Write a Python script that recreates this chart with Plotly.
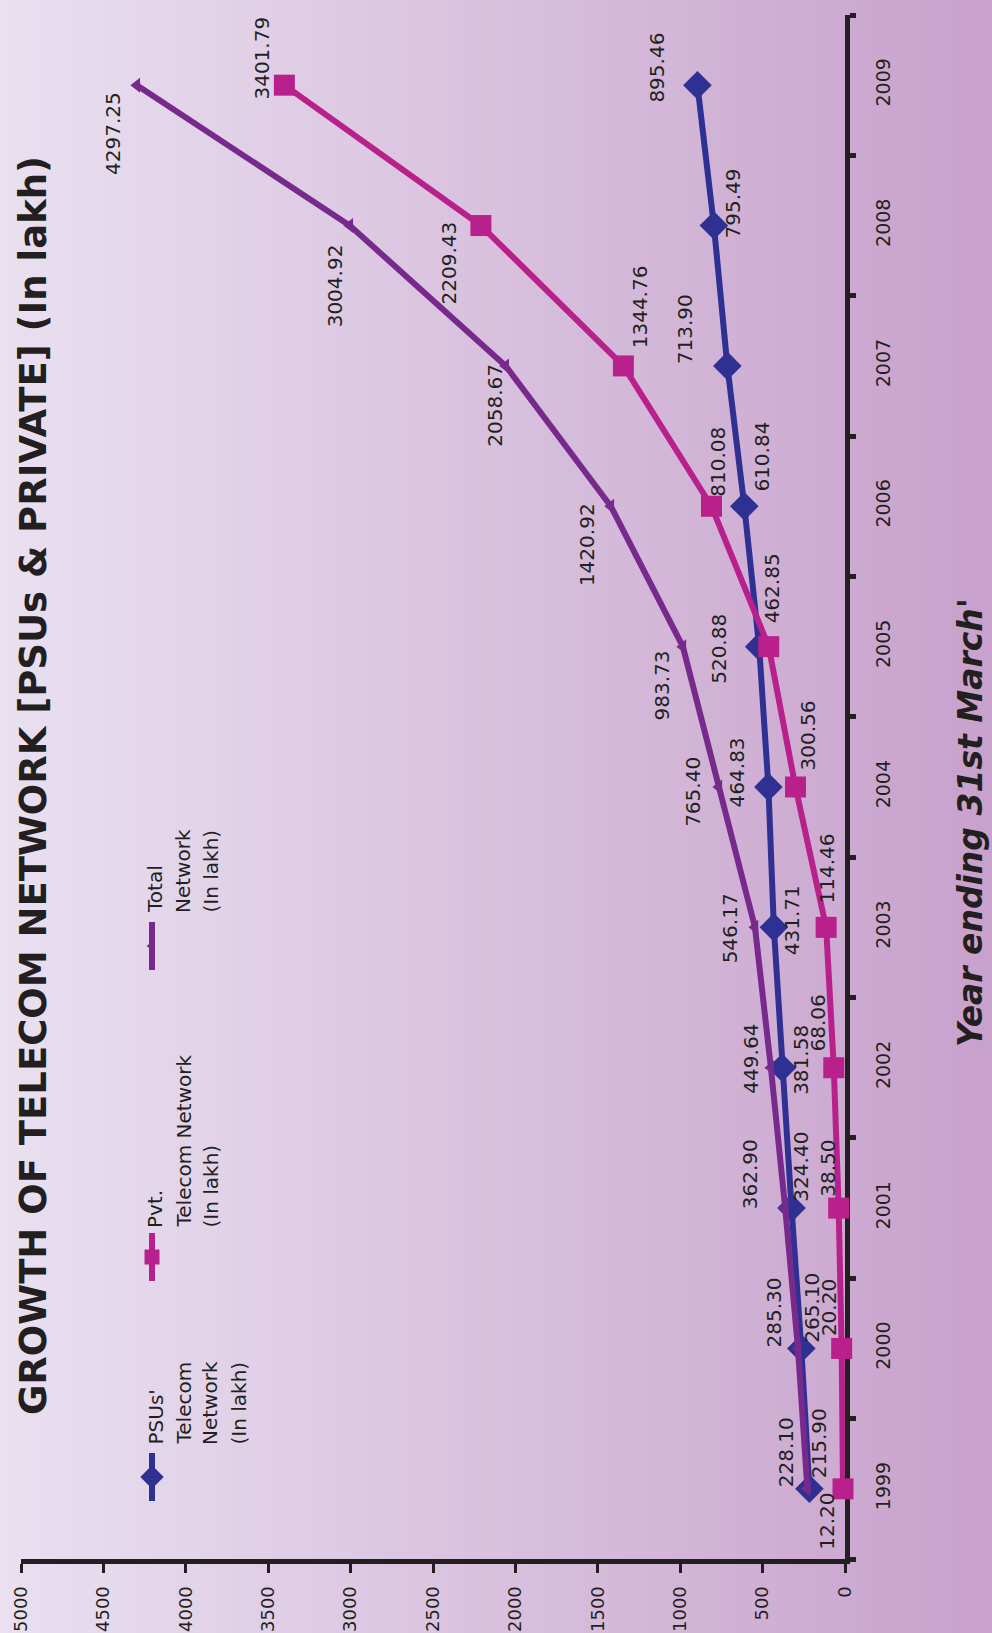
import plotly.graph_objects as go

# ---- data -------------------------------------------------------------
years = [1999, 2000, 2001, 2002, 2003, 2004, 2005, 2006, 2007, 2008, 2009]
psu_network = [215.90, 265.10, 324.40, 381.58, 431.71, 464.83, 520.88, 610.84, 713.90, 795.49, 895.46]
pvt_network = [12.20, 20.20, 38.50, 68.06, 114.46, 300.56, 462.85, 810.08, 1344.76, 2209.43, 3401.79]
total_network = [228.10, 285.30, 362.90, 449.64, 546.17, 765.40, 983.73, 1420.92, 2058.67, 3004.92, 4297.25]
value_ticks = [0, 500, 1000, 1500, 2000, 2500, 3000, 3500, 4000, 4500, 5000]

# ---- label placement (pixel offsets of each value label from its point) ----
psu_label_offsets = [(9, -46), (11, -41), (10, -41), (19, -8), (19, -7), (-31, -15),
                     (-41, 2), (18, -50), (-42, -37), (19, -22), (-40, -18)]
pvt_label_offsets = [(-16, 32), (-12, -41), (-11, -40), (-16, -45), (1, -59), (13, -52),
                     (3, -58), (7, -44), (17, -59), (-32, 37), (-22, -27)]
total_label_offsets = [(-22, -37), (-24, -36), (-35, -34), (-20, -9), (-25, 1), (-26, 5),
                       (-21, 39), (-24, 38), (-11, 39), (-15, 60), (-24, 48)]

# ---- layout geometry ----------------------------------------------------
W, H = 992, 1633
L, R, T, B = 21, 845, 15, 1559

PSU_C = "#2e3192"
PVT_C = "#b8218b"
TOT_C = "#782a8c"
INK = "#231f20"
FONT = "DejaVu Sans"


def px_x(px):
    return (px - L) / (R - L)


def px_y(py):
    return (B - py) / (B - T)


fig = go.Figure()

# series lines (PSU first, then Pvt, Total on top)
fig.add_trace(go.Scatter(
    x=psu_network, y=years, mode="lines+markers", name="PSUs'",
    line=dict(color=PSU_C, width=6),
    marker=dict(symbol="diamond", size=22, color=PSU_C),
    cliponaxis=False,
))
fig.add_trace(go.Scatter(
    x=pvt_network, y=years, mode="lines+markers", name="Pvt.",
    line=dict(color=PVT_C, width=6),
    marker=dict(symbol="square", size=21, color=PVT_C),
    cliponaxis=False,
))
fig.add_trace(go.Scatter(
    x=total_network, y=years, mode="lines+markers", name="Total",
    line=dict(color=TOT_C, width=6),
    marker=dict(symbol="triangle-left", size=13, color=TOT_C),
    cliponaxis=False,
))

# legend glyphs on a pixel-space overlay
legend_glyphs = [
    (PSU_C, "diamond", 18, 1453, 1501),
    (PVT_C, "square", 15, 1233, 1281),
    (TOT_C, "triangle-left", 11, 922, 970),
]
for color, sym, size, y0, y1 in legend_glyphs:
    fig.add_trace(go.Scatter(
        x=[152, 152], y=[y0, y1],
        xaxis="x2", yaxis="y2", mode="lines",
        line=dict(color=color, width=6),
        showlegend=False, hoverinfo="skip",
    ))
    fig.add_trace(go.Scatter(
        x=[152], y=[(y0 + y1) / 2],
        xaxis="x2", yaxis="y2", mode="markers",
        marker=dict(symbol=sym, size=size, color=color, opacity=1, line=dict(width=0)),
        showlegend=False, hoverinfo="skip",
    ))

annotations = []

# value labels
for vals, offs in ((psu_network, psu_label_offsets),
                   (pvt_network, pvt_label_offsets),
                   (total_network, total_label_offsets)):
    for yr, v, (dx, dy) in zip(years, vals, offs):
        annotations.append(dict(
            x=v, y=yr, xref="x", yref="y", text=f"{v:.2f}", showarrow=False,
            textangle=-90, xanchor="center", yanchor="middle",
            xshift=dx, yshift=-dy,
            font=dict(family=FONT, size=20, color=INK),
        ))

# legend text
legend_text = [
    ([(155, "PSUs'"), (183, "Telecom"), (210, "Network"), (238, "(In lakh)")], 1447),
    ([(155, "Pvt."), (183, "Telecom Network"), (210, "(In lakh)")], 1230),
    ([(155, "Total"), (183, "Network"), (210, "(In lakh)")], 915),
]
for lines, bottom in legend_text:
    for cx, txt in lines:
        annotations.append(dict(
            x=px_x(cx), y=px_y(bottom), xref="paper", yref="paper", text=txt,
            showarrow=False, textangle=-90, xanchor="center", yanchor="bottom",
            font=dict(family=FONT, size=20, color=INK),
        ))

# chart title
annotations.append(dict(
    x=px_x(33), y=px_y(786), xref="paper", yref="paper",
    text="<b>GROWTH OF TELECOM NETWORK [PSUs &amp; PRIVATE] (In lakh)</b>",
    showarrow=False, textangle=-90, xanchor="center", yanchor="middle",
    font=dict(family=FONT, size=37, color=INK),
))

# category axis title
annotations.append(dict(
    x=px_x(970), y=px_y(823), xref="paper", yref="paper",
    text="<b><i>Year ending 31st March'</i></b>",
    showarrow=False, textangle=-90, xanchor="center", yanchor="middle",
    font=dict(family=FONT, size=33, color=INK),
))

# background gradient, left (light lavender) to right (mauve)
c0 = (233, 224, 240)
c1 = (200, 161, 204)
shapes = []
n = 124
for i in range(n):
    x0 = W * i / n
    x1 = W * (i + 1) / n + 1
    t = (i + 0.5) / n
    col = tuple(round(a + (b - a) * t) for a, b in zip(c0, c1))
    shapes.append(dict(
        type="rect", xref="paper", yref="paper", layer="below",
        x0=px_x(x0), x1=px_x(x1), y0=px_y(H), y1=px_y(0),
        fillcolor=f"rgb{col}", line=dict(width=0),
    ))

fig.update_layout(
    width=W, height=H,
    margin=dict(l=L, r=W - R, t=T, b=H - B, pad=0, autoexpand=False),
    paper_bgcolor=f"rgb{c0}",
    plot_bgcolor="rgba(0,0,0,0)",
    showlegend=False,
    shapes=shapes,
    annotations=annotations,
    xaxis=dict(
        range=[5000, 0], tickvals=value_ticks, ticktext=[str(v) for v in value_ticks],
        showgrid=False, zeroline=False, automargin=False, layer="below traces",
        showline=True, linewidth=5, linecolor=INK,
        ticks="outside", ticklen=9, tickwidth=3, tickcolor=INK,
        tickangle=-90, tickfont=dict(family=FONT, size=18, color=INK),
        ticklabelstandoff=6,
    ),
    yaxis=dict(
        range=[1998.5, 2009.5], side="right",
        tickvals=years, ticktext=[str(y) for y in years],
        showgrid=False, zeroline=False, automargin=False, layer="below traces",
        showline=True, linewidth=5, linecolor=INK,
        ticks="", tickangle=-90,
        tickfont=dict(family=FONT, size=19, color=INK),
        ticklabelstandoff=17,
        minor=dict(tickvals=[y - 0.5 for y in years] + [2009.5], ticks="outside",
                   ticklen=6, tickwidth=5, tickcolor=INK),
    ),
    xaxis2=dict(range=[L, R], overlaying="x", visible=False, fixedrange=True),
    yaxis2=dict(range=[B, T], overlaying="y", visible=False, fixedrange=True),
)

fig.write_html("out.html")
